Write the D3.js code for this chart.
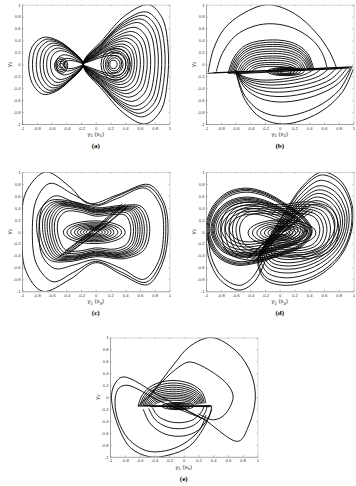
<!DOCTYPE html>
<html>
<head>
<meta charset="utf-8">
<script src="https://cdn.jsdelivr.net/npm/d3@7/dist/d3.min.js"></script>
<style>
body { margin: 0; background: #fff; }
</style>
</head>
<body>
<svg width="356" height="486"></svg>
<script>
// shared axis ticks
var ticks = [-1, -0.8, -0.6, -0.4, -0.2, 0, 0.2, 0.4, 0.6, 0.8, 1];
var tickLabels = ['-1', '-0.8', '-0.6', '-0.4', '-0.2', '0', '0.2', '0.4', '0.6', '0.8', '1'];
var panelNames = ['(a)', '(b)', '(c)', '(d)', '(e)'];
var xSubs = ['1', '2', '3', '4', '5'];

// (a) two lobes pinched at the crossing point
var aTip = [-0.17, 0];
var aRightBase = [[-0.17,0],[0.1,0.42],[0.4,0.82],[0.72,1.0],[0.9,0.78],[0.98,0.3],[0.97,-0.3],[0.88,-0.78],[0.67,-1.0],[0.4,-0.84],[0.1,-0.44]];
var aRightScales = [[1,1],[0.96,0.88],[0.92,0.82],[0.88,0.76],[0.84,0.7],[0.79,0.62],[0.75,0.55],[0.71,0.49],[0.67,0.44],[0.63,0.39],[0.6,0.34],[0.57,0.3],[0.54,0.26],[0.5,0.2],[0.45,0.15]];
var aLeftBase = [[-0.17,0],[-0.35,0.26],[-0.55,0.42],[-0.72,0.45],[-0.86,0.3],[-0.91,0],[-0.86,-0.32],[-0.72,-0.5],[-0.55,-0.46],[-0.35,-0.27]];
var aLeftScales = [[1,1],[0.93,0.93],[0.86,0.86],[0.79,0.78],[0.73,0.7],[0.67,0.6],[0.6,0.5],[0.5,0.35],[0.42,0.22],[0.36,0.14]];
var aRings = [[0.27,0,0.2,0.27],[0.27,0,0.17,0.23],[0.27,0,0.14,0.19],[0.26,0,0.11,0.15],[0.25,0,0.08,0.11],[0.24,0,0.05,0.07],
  [-0.47,-0.02,0.09,0.13],[-0.47,-0.02,0.07,0.1],[-0.47,-0.02,0.05,0.07],[-0.47,-0.02,0.03,0.04]];

// (b) arches above a flat band, bowls below it
var bFlat = [[[-0.98,-0.15],[0.99,-0.04]],[[-0.9,-0.14],[0.94,-0.05]],[[-0.62,-0.16],[0.98,-0.06]],[[-0.7,-0.15],[0.8,-0.07]]];
var bArchOuter = [
  [[-0.97,-0.13],[-0.9,0.25],[-0.75,0.6],[-0.5,0.85],[-0.16,1.0],[0.2,0.85],[0.5,0.52],[0.68,0.2],[0.77,-0.06]],
  [[-0.86,-0.12],[-0.78,0.18],[-0.6,0.48],[-0.35,0.64],[-0.09,0.68],[0.2,0.6],[0.45,0.4],[0.58,0.18],[0.64,-0.05]]
];
var bArchAnchor = [-0.08, -0.13];
var bArchBase = [[-0.7,-0.15],[-0.62,0.12],[-0.45,0.33],[-0.1,0.41],[0.2,0.35],[0.38,0.18],[0.46,-0.07]];
var bArchScales = [[1,1],[0.97,0.93],[0.94,0.86],[0.91,0.8],[0.88,0.72],[0.85,0.65],[0.8,0.58],[0.76,0.5],[0.72,0.44],[0.68,0.37],[0.62,0.3],[0.56,0.24],[0.5,0.18]];
var bBowlAnchor = [-0.62, -0.08];
var bBowlBase = [[-0.59,-0.15],[-0.47,-0.6],[-0.25,-0.9],[0.07,-1.0],[0.52,-0.82],[0.84,-0.48],[1.0,-0.07]];
var bBowlScales = [[1,1],[0.98,0.86],[0.97,0.6],[0.94,0.5],[0.9,0.42],[0.85,0.35],[0.79,0.29],[0.73,0.24],[0.67,0.2]];
var bRings = [[0.08,-0.12,0.25,0.07],[0.08,-0.12,0.2,0.06],[0.08,-0.12,0.16,0.05],[0.08,-0.12,0.12,0.04],[0.08,-0.12,0.08,0.03]];

// (c) bow tie with a dense core
var cLoops = [
  [[-0.68,1.0],[-0.35,0.75],[-0.1,0.47],[0.3,0.62],[0.72,0.79],[0.92,0.5],[0.98,0],[0.9,-0.55],[0.7,-0.89],[0.35,-0.72],[0.0,-0.52],[-0.35,-0.8],[-0.72,-1.0],[-0.95,-0.65],[-1.0,0],[-0.95,0.65]],
  [[-0.62,0.81],[-0.3,0.62],[0.0,0.45],[0.3,0.6],[0.7,0.76],[0.9,0.48],[0.95,0],[0.88,-0.52],[0.68,-0.85],[0.35,-0.68],[0.0,-0.5],[-0.3,-0.68],[-0.58,-0.84],[-0.8,-0.55],[-0.86,0],[-0.8,0.55]],
  [[-0.55,0.6],[-0.3,0.5],[0.0,0.43],[0.3,0.56],[0.67,0.73],[0.87,0.45],[0.92,0],[0.85,-0.5],[0.65,-0.8],[0.35,-0.62],[0.0,-0.47],[-0.3,-0.56],[-0.55,-0.62],[-0.72,-0.42],[-0.77,0],[-0.72,0.42]]
];
var cPillowBase = [[-0.78,0.3],[-0.62,0.52],[-0.3,0.5],[0.0,0.4],[0.35,0.44],[0.62,0.42],[0.73,0.1],[0.66,-0.3],[0.4,-0.45],[0.0,-0.42],[-0.35,-0.5],[-0.63,-0.47],[-0.78,-0.12]];
var cPillowScales = [[1,1],[0.95,0.95],[0.9,0.92],[0.86,0.88],[0.82,0.85],[0.78,0.82],[0.74,0.78],[0.7,0.72],[0.65,0.65]];
var cRings = [[-0.02,-0.01,0.42,0.19],[-0.02,-0.01,0.37,0.16],[-0.02,-0.01,0.32,0.14],[-0.02,-0.01,0.27,0.12],[-0.02,-0.01,0.23,0.1],
  [-0.02,-0.01,0.19,0.08],[-0.02,-0.01,0.15,0.065],[-0.02,-0.01,0.11,0.05],[-0.02,-0.01,0.07,0.03]];
var cDiag = [[[-0.45,-0.4],[0.0,0.02],[0.4,0.46]],[[-0.4,-0.38],[0.02,0.0],[0.44,0.44]],[[-0.42,-0.33],[-0.02,0.05],[0.36,0.47]],
  [[-0.36,-0.36],[0.05,0.02],[0.42,0.4]],[[-0.5,-0.42],[-0.05,0.0],[0.35,0.42]]];

// (d) two tilted lobes
var dLeftAnchor = [-0.25, 0.05];
var dLeftBase = [[-1.0,0.0],[-0.92,0.4],[-0.72,0.65],[-0.47,0.73],[-0.2,0.66],[0.1,0.45],[0.35,0.22],[0.44,0.0],[0.3,-0.25],[0.0,-0.4],[-0.3,-0.52],[-0.6,-0.56],[-0.86,-0.4]];
var dLeftScales = [[1,1],[0.98,0.97],[0.96,0.94],[0.94,0.9],[0.91,0.78],[0.89,0.75],[0.87,0.72],[0.85,0.69],[0.82,0.65],[0.78,0.58],[0.72,0.5],[0.65,0.43],[0.58,0.36]];
var dRightAnchor = [0.25, 0.0];
var dRightBase = [[-0.12,-0.05],[0.08,0.35],[0.3,0.75],[0.57,1.0],[0.82,0.86],[0.98,0.45],[0.97,0.0],[0.82,-0.42],[0.5,-0.76],[0.1,-0.9],[-0.2,-0.8],[-0.3,-0.5],[-0.22,-0.25]];
var dRightScales = [[1,1],[0.98,0.95],[0.93,0.86],[0.89,0.77],[0.85,0.7],[0.81,0.64],[0.77,0.58],[0.72,0.52],[0.67,0.46]];
var dLow = [[[-0.2,-0.5],[-0.35,-0.85],[-0.55,-0.98],[-0.8,-0.82],[-0.96,-0.45],[-1.0,-0.05]],
  [[-0.22,-0.45],[-0.38,-0.78],[-0.55,-0.9],[-0.78,-0.76],[-0.93,-0.42],[-0.97,-0.05]]];
var dPillowBase = [[-0.8,0.1],[-0.68,0.4],[-0.4,0.5],[0.0,0.45],[0.4,0.5],[0.7,0.38],[0.8,0.05],[0.7,-0.3],[0.4,-0.45],[0.0,-0.42],[-0.4,-0.48],[-0.7,-0.35]];
var dPillowScales = [[1,1],[0.93,0.92],[0.86,0.85],[0.8,0.78],[0.74,0.7],[0.68,0.62]];
var dRings = [[0.03,-0.02,0.46,0.22],[0.03,-0.02,0.4,0.19],[0.03,-0.02,0.34,0.16],[0.03,-0.02,0.29,0.13],[0.03,-0.02,0.24,0.11],
  [0.03,-0.02,0.19,0.09],[0.03,-0.02,0.15,0.07],[0.03,-0.02,0.11,0.05],[0.03,-0.02,0.07,0.03]];
var dDiag = [[[-0.4,-0.5],[0.0,0.0],[0.4,0.42]],[[-0.35,-0.5],[0.03,-0.02],[0.42,0.38]],[[-0.42,-0.44],[-0.02,0.03],[0.36,0.44]],
  [[-0.3,-0.46],[0.05,0.0],[0.38,0.36]],[[-0.45,-0.46],[-0.04,0.01],[0.33,0.4]],[[-0.28,-0.4],[0.08,0.02],[0.45,0.35]]];

// (e) one big loop, two left loops, arches on a flat band
var eOpen = [
  [[-0.62,-0.15],[-0.43,0.08],[-0.14,0.54],[0.08,0.85],[0.38,1.0],[0.72,0.76],[0.92,0.37],[0.97,-0.03],[0.88,-0.48],[0.74,-0.74],[0.27,-0.37],[0.0,-0.2]],
  [[-0.5,-0.05],[-0.3,0.25],[-0.05,0.52],[0.08,0.59],[0.35,0.45],[0.6,0.2],[0.67,0.0],[0.55,-0.3],[0.4,-0.38],[0.2,-0.28]],
  [[0.38,-0.2],[0.3,-0.45],[0.08,-0.82],[-0.2,-0.97],[-0.46,-1.0],[-0.72,-0.85],[-0.9,-0.45],[-0.98,0.03],[-0.92,0.25],[-0.82,0.34],[-0.28,-0.01],[0.27,-0.37]],
  [[0.3,-0.3],[0.22,-0.54],[0.0,-0.78],[-0.25,-0.9],[-0.5,-0.9],[-0.75,-0.7],[-0.9,-0.35],[-0.93,-0.02],[-0.88,0.15],[-0.77,0.2],[-0.3,-0.08],[0.3,-0.38]]
];
var eBowlAnchor = [-0.05, -0.15];
var eBowlBase = [[-0.55,-0.2],[-0.45,-0.45],[-0.25,-0.62],[0.0,-0.65],[0.2,-0.55],[0.35,-0.3],[0.38,-0.15]];
var eBowlScales = [[1,1],[0.85,0.75],[0.75,0.55]];
var eArchAnchor = [-0.12, -0.14];
var eArchBase = [[-0.62,-0.15],[-0.56,0.04],[-0.42,0.2],[-0.16,0.28],[0.1,0.22],[0.25,0.08],[0.3,-0.1]];
var eArchScales = [[1,1],[0.95,0.9],[0.91,0.81],[0.87,0.73],[0.83,0.65],[0.79,0.57],[0.75,0.49],[0.71,0.42],[0.67,0.35],[0.62,0.28],[0.57,0.21]];
var eFlat = [[[-0.62,-0.15],[0.38,-0.15]],[[-0.55,-0.14],[0.36,-0.16]],[[-0.45,-0.16],[0.37,-0.14]]];
var eRings = [[-0.08,-0.15,0.22,0.06],[-0.08,-0.15,0.17,0.05],[-0.08,-0.15,0.13,0.04],[-0.08,-0.15,0.09,0.03],[-0.08,-0.15,0.05,0.02]];

function scaled(base, anchor, scales) {
  return scales.map(function(s) {
    return base.map(function(p) {
      return [anchor[0] + (p[0] - anchor[0]) * s[0], anchor[1] + (p[1] - anchor[1]) * s[1]];
    });
  });
}

var panelData = [
  { closed: scaled(aRightBase, aTip, aRightScales).concat(scaled(aLeftBase, aTip, aLeftScales)), open: [], rings: aRings },
  { closed: [], open: bFlat.concat(bArchOuter, scaled(bArchBase, bArchAnchor, bArchScales), scaled(bBowlBase, bBowlAnchor, bBowlScales)), rings: bRings },
  { closed: cLoops.concat(scaled(cPillowBase, [0, 0], cPillowScales)), open: cDiag, rings: cRings },
  { closed: scaled(dLeftBase, dLeftAnchor, dLeftScales).concat(scaled(dRightBase, dRightAnchor, dRightScales), scaled(dPillowBase, [0, 0], dPillowScales)),
    open: dLow.concat(dDiag), rings: dRings },
  { closed: [], open: eOpen.concat(scaled(eBowlBase, eBowlAnchor, eBowlScales), scaled(eArchBase, eArchAnchor, eArchScales), eFlat), rings: eRings }
];

var boxes = [[22, 4.7], [206, 4.7], [22, 172], [206, 172], [110, 337.5]];
var W = 147.5, H = 119.3;
var svg = d3.select('svg');

panelData.forEach(function(p, i) {
  var g = svg.append('g').attr('transform', 'translate(' + boxes[i][0] + ',' + boxes[i][1] + ')');
  var x = d3.scaleLinear().domain([-1, 1]).range([0, W]);
  var y = d3.scaleLinear().domain([-1, 1]).range([H, 0]);

  g.append('clipPath').attr('id', 'clip' + i)
    .append('rect').attr('width', W).attr('height', H);
  var plot = g.append('g').attr('clip-path', 'url(#clip' + i + ')')
    .attr('fill', 'none').attr('stroke', '#000').attr('stroke-width', 0.9);

  var closedLine = d3.line().x(function(d) { return x(d[0]); }).y(function(d) { return y(d[1]); })
    .curve(d3.curveCatmullRomClosed.alpha(0.5));
  var openLine = d3.line().x(function(d) { return x(d[0]); }).y(function(d) { return y(d[1]); })
    .curve(d3.curveCatmullRom.alpha(0.5));

  plot.selectAll('path.closed').data(p.closed).enter().append('path')
    .attr('class', 'closed').attr('d', closedLine);
  plot.selectAll('path.open').data(p.open).enter().append('path')
    .attr('class', 'open').attr('d', openLine);
  plot.selectAll('ellipse').data(p.rings).enter().append('ellipse')
    .attr('cx', function(d) { return x(d[0]); })
    .attr('cy', function(d) { return y(d[1]); })
    .attr('rx', function(d) { return x(d[2]) - x(0); })
    .attr('ry', function(d) { return y(0) - y(d[3]); });

  // axes, ticks pointing inwards
  var fmt = function(d, k) { return tickLabels[k]; };
  var gb = g.append('g').attr('transform', 'translate(0,' + H + ')')
    .call(d3.axisBottom(x).tickValues(ticks).tickFormat(fmt).tickSize(-1.5).tickSizeOuter(0).tickPadding(2.6));
  var gl = g.append('g')
    .call(d3.axisLeft(y).tickValues(ticks).tickFormat(fmt).tickSize(-1.5).tickSizeOuter(0).tickPadding(1.5));
  var gt = g.append('g')
    .call(d3.axisTop(x).tickValues(ticks).tickFormat('').tickSize(-1.5).tickSizeOuter(0));
  var gr = g.append('g').attr('transform', 'translate(' + W + ',0)')
    .call(d3.axisRight(y).tickValues(ticks).tickFormat('').tickSize(-1.5).tickSizeOuter(0));
  [gb, gl].forEach(function(a) {
    a.select('.domain').attr('stroke', '#666').attr('stroke-width', 0.6);
    a.selectAll('.tick line').attr('stroke', '#666').attr('stroke-width', 0.5);
    a.selectAll('text').attr('font-size', 4.2).attr('font-family', 'Liberation Sans, Arial, sans-serif').attr('fill', '#333');
  });
  [gt, gr].forEach(function(a) {
    a.select('.domain').attr('stroke', '#bbb').attr('stroke-width', 0.6);
    a.selectAll('.tick line').attr('stroke', '#999').attr('stroke-width', 0.5);
  });

  // axis titles
  var yl = g.append('text')
    .attr('transform', 'translate(-11,' + (H / 2) + ') rotate(-90)')
    .attr('text-anchor', 'middle').attr('font-size', 6)
    .attr('font-family', 'Liberation Sans, Arial, sans-serif').attr('fill', '#222');
  yl.append('tspan').text('y');
  yl.append('tspan').attr('font-size', 4.2).attr('dy', 1.3).text('2');

  var xl = g.append('text')
    .attr('x', W / 2).attr('y', H + 12)
    .attr('text-anchor', 'middle').attr('font-size', 6)
    .attr('font-family', 'Liberation Sans, Arial, sans-serif').attr('fill', '#222');
  xl.append('tspan').text('y');
  xl.append('tspan').attr('font-size', 4.2).attr('dy', 1.3).text('1');
  xl.append('tspan').attr('dy', -1.3).text(' (x');
  xl.append('tspan').attr('font-size', 4.2).attr('dy', 1.3).text(xSubs[i]);
  xl.append('tspan').attr('dy', -1.3).text(')');

  g.append('text')
    .attr('x', W / 2).attr('y', H + 24)
    .attr('text-anchor', 'middle').attr('font-size', 7).attr('font-weight', 'bold')
    .attr('font-family', 'Liberation Serif, Times New Roman, serif').attr('fill', '#000')
    .text(panelNames[i]);
});
</script>
</body>
</html>
